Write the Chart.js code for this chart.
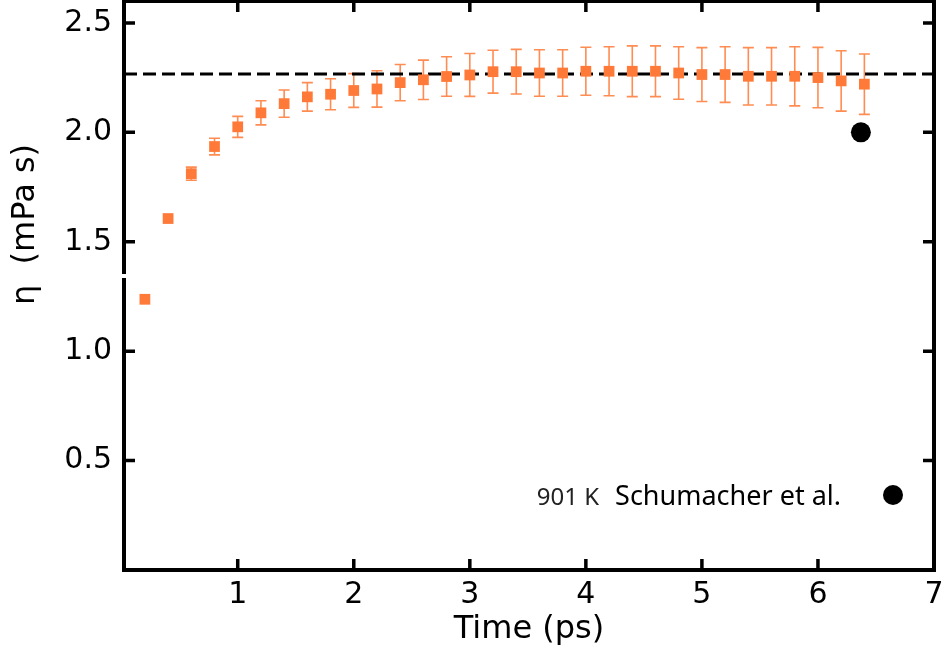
<!DOCTYPE html>
<html>
<head>
<meta charset="utf-8">
<script src="https://cdn.jsdelivr.net/npm/chart.js@4.4.1/dist/chart.umd.min.js"></script>
<style>
  html, body { margin: 0; padding: 0; background: #ffffff; }
  #wrap { width: 948px; height: 654px; }
</style>
</head>
<body>
<div id="wrap"><canvas id="c" width="948" height="654"></canvas></div>
<script>
// ---- data ----
const times = [0.2, 0.4, 0.6, 0.8, 1.0, 1.2, 1.4, 1.6, 1.8, 2.0, 2.2, 2.4, 2.6, 2.8, 3.0, 3.2,
               3.4, 3.6, 3.8, 4.0, 4.2, 4.4, 4.6, 4.8, 5.0, 5.2, 5.4, 5.6, 5.8, 6.0, 6.2, 6.4];
const eta = [1.237, 1.606, 1.811, 1.935, 2.025, 2.089, 2.131, 2.162, 2.174, 2.191, 2.198, 2.227,
             2.240, 2.255, 2.262, 2.277, 2.277, 2.271, 2.271, 2.279, 2.279, 2.279, 2.279, 2.271,
             2.264, 2.264, 2.256, 2.256, 2.256, 2.250, 2.235, 2.220];
const etaErr = [0, 0, 0.030, 0.038, 0.048, 0.055, 0.062, 0.065, 0.071, 0.077, 0.083, 0.083,
                0.090, 0.090, 0.098, 0.098, 0.102, 0.106, 0.106, 0.110, 0.112, 0.116, 0.116, 0.120,
                0.123, 0.127, 0.131, 0.131, 0.135, 0.138, 0.138, 0.138];
const refEta = 2.267;               // dashed reference level
const refSpan = [0.02, 7];          // time range of the dashed line
const schTime = [6.37];             // Schumacher et al. (901 K)
const schEta = [2.0];
const xTickValues = [1, 2, 3, 4, 5, 6, 7];
const yTickValues = [0.5, 1.0, 1.5, 2.0, 2.5];
const xTitle = 'Time (ps)';
const yTitle = 'η  (mPa s)';
const legendTemp = '901 K';
const legendLabel = 'Schumacher et al.';

const ORANGE = 'rgb(255,122,56)';
const ORANGE_BAR = 'rgb(255,140,82)';

const simData = times.map((t, i) => ({ x: t, y: eta[i], err: etaErr[i] }));
const refData = refSpan.map(t => ({ x: t, y: refEta }));
const schData = schTime.map((t, i) => ({ x: t, y: schEta[i] }));

const errorBars = {
  id: 'errorBars',
  beforeDatasetsDraw(chart) {
    const ctx = chart.ctx;
    const xs = chart.scales.x, ys = chart.scales.y;
    ctx.save();
    ctx.strokeStyle = ORANGE_BAR;
    ctx.lineWidth = 1.6;
    simData.forEach(d => {
      if (!d.err) return;
      const px = xs.getPixelForValue(d.x);
      const top = ys.getPixelForValue(d.y + d.err);
      const bot = ys.getPixelForValue(d.y - d.err);
      ctx.beginPath();
      ctx.moveTo(px, top); ctx.lineTo(px, bot);
      ctx.moveTo(px - 5.5, top); ctx.lineTo(px + 5.5, top);
      ctx.moveTo(px - 5.5, bot); ctx.lineTo(px + 5.5, bot);
      ctx.stroke();
    });
    ctx.restore();
  }
};

const frame = {
  id: 'frame',
  afterDraw(chart) {
    const ctx = chart.ctx;
    const a = chart.chartArea;
    const xs = chart.scales.x, ys = chart.scales.y;
    ctx.save();
    ctx.strokeStyle = '#000';
    ctx.lineWidth = 4;
    ctx.strokeRect(a.left, a.top, a.right - a.left, a.bottom - a.top);
    ctx.lineWidth = 3.5;
    ctx.beginPath();
    const tl = 11;
    xTickValues.forEach(v => {
      const px = xs.getPixelForValue(v);
      if (px >= a.right - 2) return;
      ctx.moveTo(px, a.bottom); ctx.lineTo(px, a.bottom - tl);
      ctx.moveTo(px, a.top); ctx.lineTo(px, a.top + tl);
    });
    yTickValues.forEach(v => {
      const py = ys.getPixelForValue(v);
      ctx.moveTo(a.left, py); ctx.lineTo(a.left + tl, py);
      ctx.moveTo(a.right, py); ctx.lineTo(a.right - tl, py);
    });
    ctx.stroke();
    // small break in the left axis
    ctx.fillStyle = '#fff';
    ctx.fillRect(a.left - 4, 274, 8, 4);

    // axis titles
    ctx.fillStyle = '#000';
    ctx.font = '32px "DejaVu Sans"';
    ctx.textAlign = 'center';
    ctx.textBaseline = 'alphabetic';
    ctx.fillText(xTitle, (a.left + a.right) / 2, 638);
    ctx.save();
    ctx.translate(34, 305);
    ctx.rotate(-Math.PI / 2);
    ctx.textAlign = 'left';
    ctx.fillText(yTitle, 0, 0);
    ctx.restore();

    // legend
    ctx.textAlign = 'right';
    ctx.fillStyle = '#222';
    ctx.font = '24px "Noto Sans"';
    ctx.fillText(legendTemp, 599, 505);
    ctx.fillStyle = '#000';
    ctx.font = '27px "Noto Sans"';
    ctx.fillText(legendLabel, 841, 505);
    ctx.beginPath();
    ctx.arc(893, 495, 10, 0, Math.PI * 2);
    ctx.fill();
    ctx.restore();
  }
};

new Chart(document.getElementById('c'), {
  type: 'scatter',
  data: {
    datasets: [
      {
        label: 'reference',
        type: 'line',
        data: refData,
        borderColor: '#000',
        borderWidth: 3,
        borderDash: [13, 6],
        pointRadius: 0,
        fill: false,
        order: 3
      },
      {
        label: 'simulation',
        data: simData,
        pointStyle: 'rect',
        pointRadius: 7.6,
        backgroundColor: ORANGE,
        borderColor: ORANGE,
        borderWidth: 0,
        order: 1
      },
      {
        label: legendLabel,
        data: schData,
        pointStyle: 'circle',
        pointRadius: 10,
        backgroundColor: '#000',
        borderColor: '#000',
        borderWidth: 0,
        order: 2
      }
    ]
  },
  options: {
    responsive: false,
    animation: false,
    layout: { autoPadding: false, padding: { top: 1, right: 14, left: 0, bottom: 0 } },
    plugins: { legend: { display: false }, tooltip: { enabled: false } },
    scales: {
      x: {
        type: 'linear',
        min: 0.02,
        max: 7,
        grid: { display: false, drawTicks: false },
        border: { display: false },
        afterBuildTicks(scale) { scale.ticks = xTickValues.map(v => ({ value: v })); },
        afterFit(scale) { scale.height = 84; scale.paddingLeft = 0; scale.paddingRight = 0; },
        ticks: {
          color: '#000',
          padding: 7,
          maxRotation: 0,
          font: { family: '"DejaVu Sans"', size: 30 },
          callback: v => String(v)
        }
      },
      y: {
        type: 'linear',
        min: 0,
        max: 2.6,
        grid: { display: false, drawTicks: false },
        border: { display: false },
        afterBuildTicks(scale) { scale.ticks = yTickValues.map(v => ({ value: v })); },
        afterFit(scale) { scale.width = 124; scale.paddingTop = 0; scale.paddingBottom = 0; },
        ticks: {
          color: '#000',
          padding: 12,
          font: { family: '"DejaVu Sans"', size: 30 },
          callback: v => Number(v).toFixed(1)
        }
      }
    }
  },
  plugins: [errorBars, frame]
});
</script>
</body>
</html>
